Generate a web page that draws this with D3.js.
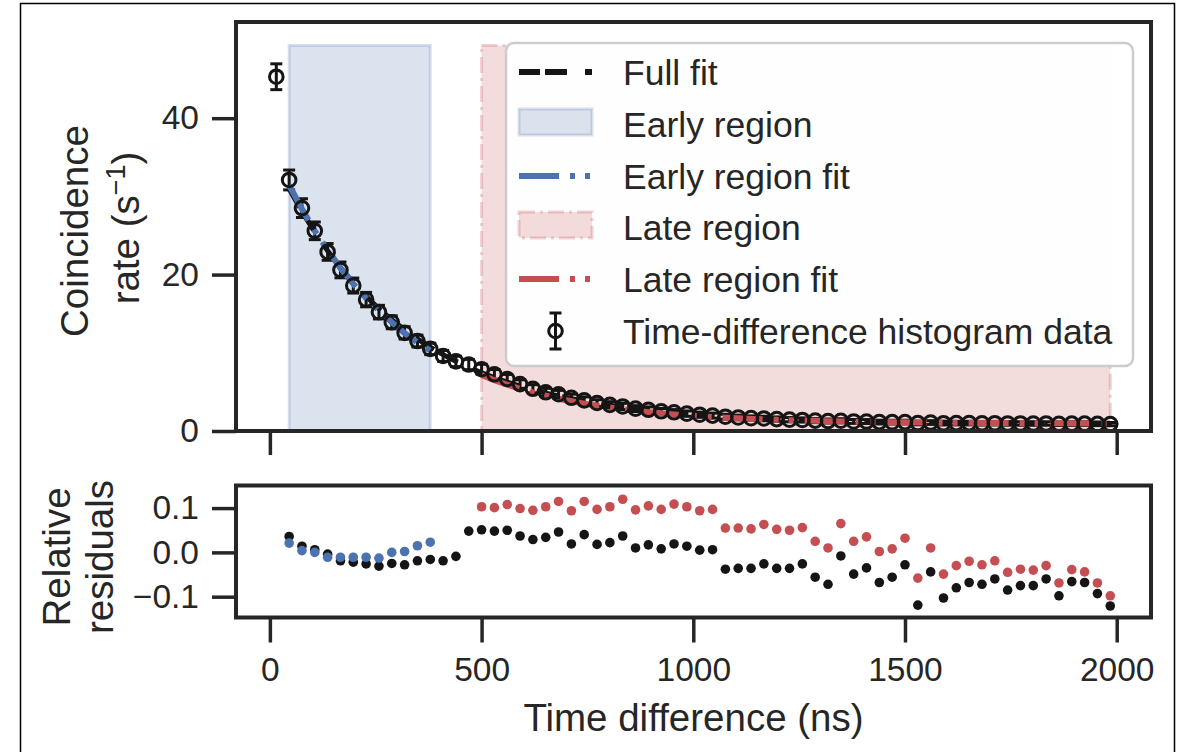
<!DOCTYPE html>
<html>
<head>
<meta charset="utf-8">
<script src="https://cdn.jsdelivr.net/npm/d3@7"></script>
<style>
  body { margin: 0; background: white; }
  svg text { font-family: "Liberation Sans", Arial, sans-serif; fill: #262626; }
</style>
</head>
<body>
<script>
// time-difference bin centres (ns), 66 bins over 0..2000
const binCentres = [15.2, 45.5, 75.8, 106.1, 136.4, 166.7, 197.0, 227.3, 257.6, 287.9,
  318.2, 348.5, 378.8, 409.1, 439.4, 469.7, 500.0, 530.3, 560.6, 590.9,
  621.2, 651.5, 681.8, 712.1, 742.4, 772.7, 803.0, 833.3, 863.6, 893.9,
  924.2, 954.5, 984.8, 1015.2, 1045.5, 1075.8, 1106.1, 1136.4, 1166.7, 1197.0,
  1227.3, 1257.6, 1287.9, 1318.2, 1348.5, 1378.8, 1409.1, 1439.4, 1469.7, 1500.0,
  1530.3, 1560.6, 1590.9, 1621.2, 1651.5, 1681.8, 1712.1, 1742.4, 1772.7, 1803.0,
  1833.3, 1863.6, 1893.9, 1924.2, 1954.5, 1984.8];

// coincidence rate (1/s) and its error
const rate = [45.3, 32.1, 28.5, 25.6, 22.9, 20.6, 18.6, 16.8, 15.2, 13.9,
  12.55, 11.5, 10.5, 9.6, 8.9, 8.5, 7.9, 7.25, 6.65, 6.0,
  5.4, 4.95, 4.7, 4.25, 3.92, 3.58, 3.34, 3.14, 2.86, 2.71,
  2.52, 2.39, 2.22, 2.08, 1.97, 1.83, 1.73, 1.64, 1.6, 1.52,
  1.45, 1.41, 1.33, 1.27, 1.31, 1.22, 1.21, 1.14, 1.13, 1.14,
  1.02, 1.08, 1.0, 1.01, 1.01, 0.99, 1.0, 0.96, 0.96, 0.95,
  0.96, 0.92, 0.94, 0.94, 0.91, 0.88];
const rateErr = [1.65, 1.27, 1.2, 1.13, 1.07, 1.01, 0.96, 0.92, 0.87, 0.83,
  0.79, 0.76, 0.73, 0.70, 0.67, 0.66, 0.63, 0.61, 0.58, 0.55,
  0.52, 0.50, 0.49, 0.46, 0.44, 0.42, 0.41, 0.40, 0.38, 0.37,
  0.36, 0.35, 0.34, 0.33, 0.32, 0.31, 0.30, 0.29, 0.29, 0.28,
  0.27, 0.27, 0.26, 0.25, 0.26, 0.25, 0.25, 0.24, 0.24, 0.24,
  0.23, 0.24, 0.23, 0.23, 0.23, 0.23, 0.23, 0.22, 0.22, 0.22,
  0.22, 0.22, 0.22, 0.22, 0.22, 0.21];

// fit curves: full fit on bins 1..65, early on bins 1..12, late on bins 16..65
const fullFit = [30.96, 28.05, 25.42, 23.05, 20.90, 18.97, 17.22, 15.64, 14.22, 12.93,
  11.77, 10.72, 9.77, 8.92, 8.14, 7.45, 6.82, 6.25, 5.73, 5.27,
  4.85, 4.47, 4.13, 3.82, 3.54, 3.29, 3.06, 2.86, 2.67, 2.51,
  2.36, 2.22, 2.10, 1.98, 1.885, 1.794, 1.712, 1.638, 1.571, 1.511,
  1.457, 1.407, 1.363, 1.323, 1.287, 1.254, 1.225, 1.198, 1.174, 1.152,
  1.133, 1.115, 1.099, 1.084, 1.071, 1.06, 1.049, 1.039, 1.031, 1.023,
  1.016, 1.009, 1.004, 0.998, 0.994];
const earlyFit = [31.44, 28.39, 25.6, 23.15, 20.83, 18.81, 16.99, 15.40, 13.9, 12.52, 11.33, 10.26];
const lateFit = [7.15, 6.50, 5.92, 5.39, 4.93, 4.51, 4.13, 3.80, 3.50, 3.23,
  2.99, 2.78, 2.59, 2.41, 2.26, 2.12, 2.00, 1.89, 1.79, 1.70,
  1.62, 1.55, 1.49, 1.43, 1.38, 1.34, 1.30, 1.26, 1.23, 1.20,
  1.17, 1.15, 1.13, 1.11, 1.09, 1.08, 1.06, 1.05, 1.04, 1.03,
  1.02, 1.02, 1.01, 1.00, 1.00, 0.99, 0.99, 0.98, 0.98, 0.98];

// relative residuals for each fit (same bins as the fits)
const fullResid = [0.036, 0.014, 0.006, -0.004, -0.019, -0.022, -0.026, -0.031, -0.025, -0.028,
  -0.019, -0.016, -0.019, -0.009, 0.048, 0.051, 0.048, 0.050, 0.037, 0.029,
  0.034, 0.046, 0.019, 0.040, 0.018, 0.022, 0.037, 0.010, 0.017, 0.008,
  0.019, 0.014, 0.005, 0.006, -0.038, -0.036, -0.036, -0.026, -0.036, -0.036,
  -0.026, -0.056, -0.072, -0.008, -0.049, -0.035, -0.068, -0.056, -0.028, -0.119,
  -0.044, -0.103, -0.080, -0.068, -0.072, -0.060, -0.085, -0.075, -0.075, -0.060,
  -0.098, -0.066, -0.068, -0.093, -0.121];
const earlyResid = [0.021, 0.004, 0.000, -0.011, -0.011, -0.011, -0.011, -0.013, 0.000, 0.002, 0.015, 0.023];
const lateResid = [0.103, 0.101, 0.108, 0.099, 0.095, 0.103, 0.115, 0.094, 0.115, 0.097,
  0.103, 0.120, 0.096, 0.105, 0.097, 0.109, 0.103, 0.094, 0.097, 0.055,
  0.055, 0.053, 0.063, 0.052, 0.050, 0.056, 0.025, 0.010, 0.065, 0.025,
  0.035, 0.002, 0.008, 0.032, -0.058, 0.010, -0.049, -0.030, -0.020, -0.028,
  -0.019, -0.045, -0.038, -0.040, -0.030, -0.069, -0.039, -0.044, -0.069, -0.098];

// shaded fit regions [start, end] in ns and their height
const earlyRegion = [45.5, 378.8];
const lateRegion = [500.0, 1984.8];
const regionHeight = 49.3;

const timeTicks = [0, 500, 1000, 1500, 2000];
const rateTicks = [0, 20, 40];
const residTicks = [-0.1, 0.0, 0.1];

const legendLabels = ["Full fit", "Early region", "Early region fit", "Late region",
  "Late region fit", "Time-difference histogram data"];

const BLUE = "#4C72B0", RED = "#C44E52", INK = "#262626", DOT = "#151515";

let svg = null;

window.onload = function() {
  svg = d3.select("body").append("svg")
    .attr("width", 1181)
    .attr("height", 752);

  // thin outer figure border
  svg.append("rect")
    .attr("x", 20.5).attr("y", 3.5)
    .attr("width", 1154).attr("height", 780)
    .attr("fill", "white")
    .attr("stroke", "black")
    .attr("stroke-width", 1.5);

  let x = d3.scaleLinear().domain([-80, 2081]).range([236, 1151]);
  let yTop = d3.scaleLinear().domain([0, 52.3]).range([431, 22]);
  let yRes = d3.scaleLinear().domain([-0.147, 0.151]).range([617.5, 485.5]);

  drawTopPanel(x, yTop);
  drawResidPanel(x, yRes);
  drawLabels();
  drawLegend();
};

function styleAxis(g, fontSize) {
  g.select(".domain").remove();
  g.selectAll(".tick line").attr("stroke", INK).attr("stroke-width", 3.5);
  g.selectAll(".tick text")
    .attr("font-size", fontSize)
    .attr("font-family", "Liberation Sans, Arial, sans-serif")
    .style("fill", INK);
}

function drawTopPanel(x, y) {
  let top = svg.append("g");

  // shaded regions
  top.append("rect")
    .attr("x", x(earlyRegion[0]))
    .attr("y", y(regionHeight))
    .attr("width", x(earlyRegion[1]) - x(earlyRegion[0]))
    .attr("height", y(0) - y(regionHeight))
    .attr("fill", BLUE).attr("fill-opacity", 0.2)
    .attr("stroke", BLUE).attr("stroke-opacity", 0.22).attr("stroke-width", 3);

  top.append("rect")
    .attr("x", x(lateRegion[0]))
    .attr("y", y(regionHeight))
    .attr("width", x(lateRegion[1]) - x(lateRegion[0]))
    .attr("height", y(0) - y(regionHeight))
    .attr("fill", RED).attr("fill-opacity", 0.2)
    .attr("stroke", RED).attr("stroke-opacity", 0.25).attr("stroke-width", 3)
    .attr("stroke-dasharray", "16,5,3,5");

  // error bars first
  let pts = top.selectAll(".pt")
    .data(rate.map((v, i) => ({ t: binCentres[i], r: v, e: rateErr[i] })))
    .enter().append("g").attr("class", "pt");

  pts.append("line")
    .attr("x1", d => x(d.t)).attr("x2", d => x(d.t))
    .attr("y1", d => y(d.r - d.e)).attr("y2", d => y(d.r + d.e))
    .attr("stroke", DOT).attr("stroke-width", 3);
  pts.append("line")
    .attr("x1", d => x(d.t) - 6).attr("x2", d => x(d.t) + 6)
    .attr("y1", d => y(d.r + d.e)).attr("y2", d => y(d.r + d.e))
    .attr("stroke", DOT).attr("stroke-width", 3);
  pts.append("line")
    .attr("x1", d => x(d.t) - 6).attr("x2", d => x(d.t) + 6)
    .attr("y1", d => y(d.r - d.e)).attr("y2", d => y(d.r - d.e))
    .attr("stroke", DOT).attr("stroke-width", 3);

  // fit lines over the error bars
  let line = d3.line().x(d => x(d[0])).y(d => y(d[1]));

  let fullPts = fullFit.map((v, i) => [binCentres[i + 1], v]);
  let earlyPts = earlyFit.map((v, i) => [binCentres[i + 1], v]);
  let latePts = lateFit.map((v, i) => [binCentres[i + 16], v]);

  top.append("path").datum(fullPts).attr("d", line)
    .attr("fill", "none").attr("stroke", DOT).attr("stroke-width", 5)
    .attr("stroke-dasharray", "21,5,22,18");
  top.append("path").datum(earlyPts).attr("d", line)
    .attr("fill", "none").attr("stroke", BLUE).attr("stroke-width", 6)
    .attr("stroke-dasharray", "40,11,5,10,5,11");
  top.append("path").datum(latePts).attr("d", line)
    .attr("fill", "none").attr("stroke", RED).attr("stroke-width", 6)
    .attr("stroke-dasharray", "40,11,5,10,5,11");

  // open markers on top
  pts.append("circle")
    .attr("cx", d => x(d.t)).attr("cy", d => y(d.r))
    .attr("r", 6.8)
    .attr("fill", "none").attr("stroke", DOT).attr("stroke-width", 3);
  pts.each(function() { top.node().appendChild(this.lastChild); });

  // axes (x ticks without labels)
  top.append("g")
    .attr("transform", "translate(0," + y(0) + ")")
    .call(d3.axisBottom(x).tickValues(timeTicks).tickFormat("").tickSize(24))
    .call(g => styleAxis(g, 34));
  top.append("g")
    .attr("transform", "translate(" + x.range()[0] + ",0)")
    .call(d3.axisLeft(y).tickValues(rateTicks).tickSize(24).tickPadding(13))
    .call(g => styleAxis(g, 33.5));

  top.append("rect")
    .attr("x", x.range()[0]).attr("y", y.range()[1])
    .attr("width", x.range()[1] - x.range()[0])
    .attr("height", y.range()[0] - y.range()[1])
    .attr("fill", "none").attr("stroke", INK).attr("stroke-width", 4);
}

function drawResidPanel(x, y) {
  let bot = svg.append("g");

  bot.selectAll(".full")
    .data(fullResid.map((v, i) => [binCentres[i + 1], v]))
    .enter().append("circle")
    .attr("cx", d => x(d[0])).attr("cy", d => y(d[1])).attr("r", 4.8)
    .attr("fill", DOT);

  bot.selectAll(".early")
    .data(earlyResid.map((v, i) => [binCentres[i + 1], v]))
    .enter().append("circle")
    .attr("cx", d => x(d[0])).attr("cy", d => y(d[1])).attr("r", 4.8)
    .attr("fill", BLUE);

  bot.selectAll(".late")
    .data(lateResid.map((v, i) => [binCentres[i + 16], v]))
    .enter().append("circle")
    .attr("cx", d => x(d[0])).attr("cy", d => y(d[1])).attr("r", 4.8)
    .attr("fill", RED);

  bot.append("g")
    .attr("transform", "translate(0," + y.range()[0] + ")")
    .call(d3.axisBottom(x).tickValues(timeTicks).tickFormat(d3.format("d")).tickSize(25).tickPadding(15))
    .call(g => styleAxis(g, 33.5));
  bot.append("g")
    .attr("transform", "translate(" + x.range()[0] + ",0)")
    .call(d3.axisLeft(y).tickValues(residTicks).tickFormat(d3.format(".1f")).tickSize(24).tickPadding(13))
    .call(g => styleAxis(g, 33.5));

  bot.append("rect")
    .attr("x", x.range()[0]).attr("y", y.range()[1])
    .attr("width", x.range()[1] - x.range()[0])
    .attr("height", y.range()[0] - y.range()[1])
    .attr("fill", "none").attr("stroke", INK).attr("stroke-width", 4);
}

function drawLabels() {
  svg.append("text")
    .attr("x", 693.5).attr("y", 731)
    .attr("text-anchor", "middle")
    .attr("font-size", 38.5)
    .text("Time difference (ns)");

  svg.append("text")
    .attr("transform", "translate(88,231)rotate(-90)")
    .attr("text-anchor", "middle")
    .attr("font-size", 38.5)
    .text("Coincidence");

  let rateLabel = svg.append("text")
    .attr("transform", "translate(139,228)rotate(-90)")
    .attr("text-anchor", "middle")
    .attr("font-size", 38.5);
  rateLabel.append("tspan").text("rate (s");
  rateLabel.append("tspan").attr("dy", -14).attr("font-size", 27).text("\u22121");
  rateLabel.append("tspan").attr("dy", 14).text(")");

  svg.append("text")
    .attr("transform", "translate(70,557)rotate(-90)")
    .attr("text-anchor", "middle")
    .attr("font-size", 38.5)
    .text("Relative");
  svg.append("text")
    .attr("transform", "translate(113,557)rotate(-90)")
    .attr("text-anchor", "middle")
    .attr("font-size", 38.5)
    .text("residuals");
}

function drawLegend() {
  let lg = svg.append("g");

  lg.append("rect")
    .attr("x", 506).attr("y", 43)
    .attr("width", 627).attr("height", 323)
    .attr("rx", 8)
    .attr("fill", "white").attr("fill-opacity", 0.96)
    .attr("stroke", "#cccccc").attr("stroke-width", 2.5);

  let baselines = [85, 137, 189, 240, 292, 344];
  let hx0 = 519, hx1 = 592;

  legendLabels.forEach((label, i) => {
    lg.append("text")
      .attr("x", 623).attr("y", baselines[i])
      .attr("font-size", 35.5)
      .text(label);
  });

  // full fit
  lg.append("line")
    .attr("x1", hx0).attr("x2", hx1)
    .attr("y1", baselines[0] - 13).attr("y2", baselines[0] - 13)
    .attr("stroke", DOT).attr("stroke-width", 6)
    .attr("stroke-dasharray", "21,5,22,18");

  // early region patch
  lg.append("rect")
    .attr("x", hx0).attr("y", baselines[1] - 28)
    .attr("width", hx1 - hx0).attr("height", 26)
    .attr("fill", BLUE).attr("fill-opacity", 0.2)
    .attr("stroke", BLUE).attr("stroke-opacity", 0.22).attr("stroke-width", 3);

  // early fit
  lg.append("line")
    .attr("x1", hx0).attr("x2", hx1)
    .attr("y1", baselines[2] - 13).attr("y2", baselines[2] - 13)
    .attr("stroke", BLUE).attr("stroke-width", 6)
    .attr("stroke-dasharray", "40,11,5,10,5,11");

  // late region patch
  lg.append("rect")
    .attr("x", hx0).attr("y", baselines[3] - 28)
    .attr("width", hx1 - hx0).attr("height", 26)
    .attr("fill", RED).attr("fill-opacity", 0.2)
    .attr("stroke", RED).attr("stroke-opacity", 0.25).attr("stroke-width", 3)
    .attr("stroke-dasharray", "16,5,3,5");

  // late fit
  lg.append("line")
    .attr("x1", hx0).attr("x2", hx1)
    .attr("y1", baselines[4] - 13).attr("y2", baselines[4] - 13)
    .attr("stroke", RED).attr("stroke-width", 6)
    .attr("stroke-dasharray", "40,11,5,10,5,11");

  // errorbar marker
  let cx = (hx0 + hx1) / 2, cy = baselines[5] - 13;
  lg.append("line")
    .attr("x1", cx).attr("x2", cx).attr("y1", cy - 18).attr("y2", cy + 18)
    .attr("stroke", DOT).attr("stroke-width", 3);
  [cy - 18, cy + 18].forEach(yy => {
    lg.append("line")
      .attr("x1", cx - 6).attr("x2", cx + 6).attr("y1", yy).attr("y2", yy)
      .attr("stroke", DOT).attr("stroke-width", 3);
  });
  lg.append("circle")
    .attr("cx", cx).attr("cy", cy).attr("r", 6.8)
    .attr("fill", "none").attr("stroke", DOT).attr("stroke-width", 3);
}
</script>
</body>
</html>
